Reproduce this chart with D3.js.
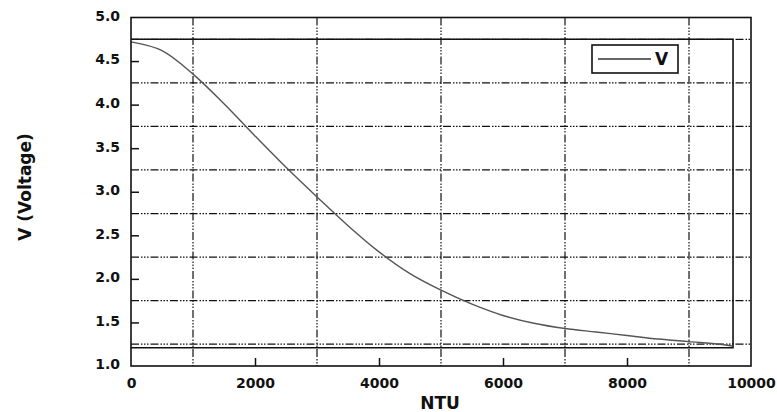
<!DOCTYPE html>
<html>
<head>
<meta charset="utf-8">
<script src="https://cdn.jsdelivr.net/npm/d3@7"></script>
<style>
  body { margin: 0; background: #fff; }
  text { font-family: "DejaVu Sans", sans-serif; font-weight: bold; fill: #111; }
</style>
</head>
<body>
<div id="chart"></div>
<script>
// measured curve V vs NTU
const ntu = [0, 500, 1000, 1500, 2000, 2500, 3000, 3500, 4000, 4500, 5000,
  5500, 6000, 6500, 7000, 7500, 8000, 8500, 9000, 9500, 9700];
const volts = [4.72, 4.62, 4.35, 4.01, 3.64, 3.28, 2.94, 2.61, 2.31, 2.06, 1.87,
  1.71, 1.58, 1.49, 1.43, 1.39, 1.35, 1.31, 1.28, 1.25, 1.23];

// open box drawn round the curve
const boxX = [0, 9710, 9710, 0];
const boxY = [4.75, 4.75, 1.21, 1.21];

const xTicks = [0, 2000, 4000, 6000, 8000, 10000];
const yTicks = [1.0, 1.5, 2.0, 2.5, 3.0, 3.5, 4.0, 4.5, 5.0];
const xGrid = [1000, 3000, 5000, 7000, 9000];
const yGrid = [1.25, 1.75, 2.25, 2.75, 3.25, 3.75, 4.25, 4.75];
const legendLabel = 'V';

const width = 777, height = 412;
const mLeft = 131, mRight = 751, mTop = 17.5, mBottom = 366;

const svg = d3.select('#chart').append('svg')
  .attr('width', width).attr('height', height);

const x = d3.scaleLinear().domain([0, 10000]).range([mLeft, mRight]);
const y = d3.scaleLinear().domain([1, 5]).range([mBottom, mTop]);

const dash = '8,2,1.5,1.5,1.5,1.5,1.5,2';

// grid
svg.append('g').selectAll('line').data(xGrid).enter().append('line')
  .attr('x1', d => x(d)).attr('x2', d => x(d))
  .attr('y1', mTop).attr('y2', mBottom)
  .attr('stroke', '#111').attr('stroke-width', 1.2)
  .attr('stroke-dasharray', dash);

svg.append('g').selectAll('line').data(yGrid).enter().append('line')
  .attr('x1', mLeft).attr('x2', mRight)
  .attr('y1', d => y(d)).attr('y2', d => y(d))
  .attr('stroke', '#111').attr('stroke-width', 1.2)
  .attr('stroke-dasharray', dash);

// box
const boxLine = d3.line().x(d => x(d[0])).y(d => y(d[1]));
svg.append('path')
  .attr('d', boxLine(boxX.map((v, i) => [v, boxY[i]])))
  .attr('fill', 'none').attr('stroke', '#111').attr('stroke-width', 1.6);

// curve
const curve = d3.line().x(d => x(d[0])).y(d => y(d[1])).curve(d3.curveCatmullRom.alpha(0.5));
svg.append('path')
  .attr('d', curve(ntu.map((v, i) => [v, volts[i]])))
  .attr('fill', 'none').attr('stroke', '#555').attr('stroke-width', 1.4);

// frame
svg.append('rect')
  .attr('x', mLeft).attr('y', mTop)
  .attr('width', mRight - mLeft).attr('height', mBottom - mTop)
  .attr('fill', 'none').attr('stroke', '#111').attr('stroke-width', 1.6);

// axes with inward ticks
const xAxis = svg.append('g').attr('transform', `translate(0,${mBottom})`)
  .call(d3.axisBottom(x).tickValues(xTicks).tickSizeInner(-8).tickSizeOuter(0).tickPadding(12)
    .tickFormat(d3.format('d')));
const yAxis = svg.append('g').attr('transform', `translate(${mLeft},0)`)
  .call(d3.axisLeft(y).tickValues(yTicks).tickSizeInner(-8).tickSizeOuter(0).tickPadding(11)
    .tickFormat(d3.format('.1f')));

[xAxis, yAxis].forEach(a => {
  a.select('.domain').remove();
  a.selectAll('.tick line').attr('stroke', '#111').attr('stroke-width', 1.5);
  a.selectAll('text').style('font-size', '14px').style('font-family', '"DejaVu Sans", sans-serif')
    .style('font-weight', 'bold').attr('fill', '#111');
});
xAxis.selectAll('.tick').filter(d => d === 0 || d === 10000).select('line').remove();
yAxis.selectAll('.tick').filter(d => d === 1 || d === 5).select('line').remove();
yAxis.selectAll('text').attr('dy', '0.2em');

// axis titles
svg.append('text')
  .attr('x', 440).attr('y', 409)
  .attr('text-anchor', 'middle')
  .style('font-size', '17px')
  .text('NTU');

svg.append('text')
  .attr('transform', 'translate(31,187) rotate(-90)')
  .attr('text-anchor', 'middle')
  .style('font-size', '17px')
  .text('V (Voltage)');

// legend
const legend = svg.append('g').attr('transform', 'translate(592,45)');
legend.append('rect')
  .attr('width', 86).attr('height', 28)
  .attr('fill', '#fff').attr('stroke', '#111').attr('stroke-width', 1.6);
legend.append('line')
  .attr('x1', 6).attr('x2', 59).attr('y1', 14).attr('y2', 14)
  .attr('stroke', '#333').attr('stroke-width', 1.4);
legend.append('text')
  .attr('x', 63).attr('y', 20)
  .style('font-size', '17px')
  .text(legendLabel);
</script>
</body>
</html>
